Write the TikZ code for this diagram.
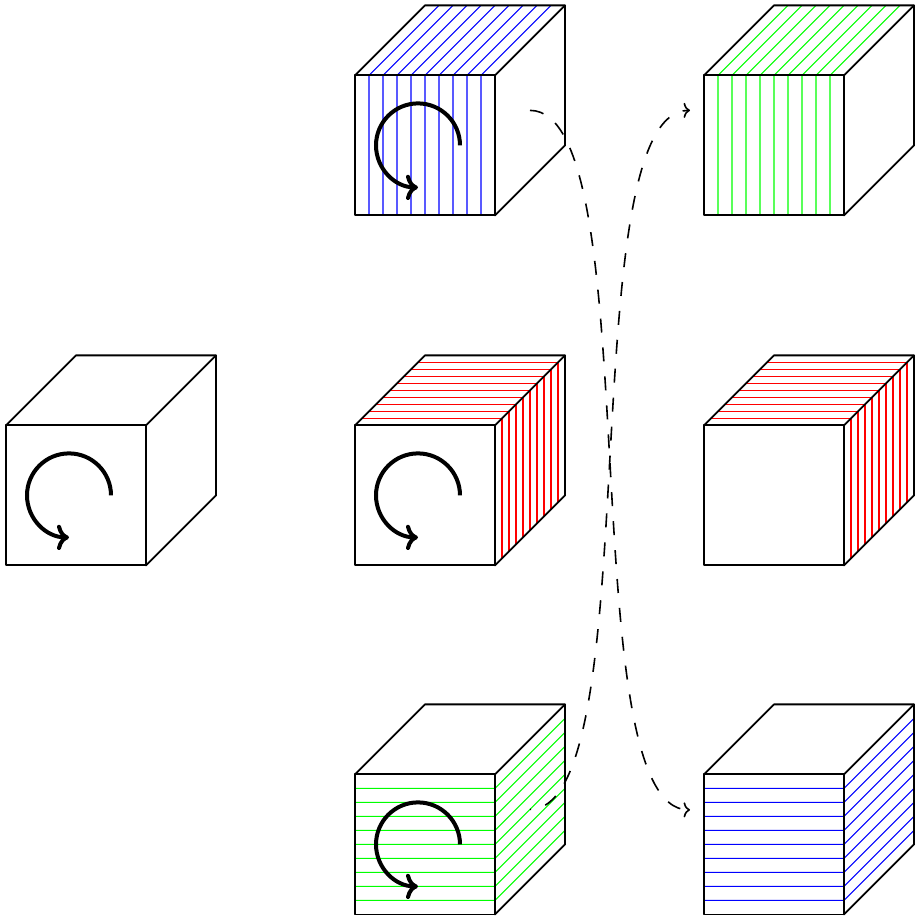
\documentclass[tikz,border=0pt]{standalone}
\usetikzlibrary{arrows.meta}
\tikzset{
  edge/.style={black,line width=0.9pt,line cap=round,line join=round},
  stripe/.style={line width=0.52pt},
  spin/.style={black,line width=2pt,->},
  link/.style={black,line width=0.8pt,-{To[length=3.2pt,width=7.5pt]},dash pattern=on 7pt off 7.5pt},
}
% outline of a cube, origin at the bottom left corner of its front face
\newcommand{\cubeat}[2]{%
  \begin{scope}[shift={(#1,#2)}]
    \draw[edge] (0,0) rectangle (140,140);
    \draw[edge] (0,140) -- (70,210) -- (210,210) -- (210,70) -- (140,0);
    \draw[edge] (140,140) -- (210,210);
  \end{scope}}
\newcommand{\spinat}[2]{%
  \begin{scope}[shift={(#1,#2)}]
    \draw[spin] (105,70) arc[start angle=0,delta angle=270,radius=42];
  \end{scope}}
% vertical stripes on the front, matching ones on the top
\newcommand{\frontvert}[3]{%
  \begin{scope}[shift={(#1,#2)}]
    \foreach \k in {14,28,...,126} {
      \draw[stripe,#3] (\k,0) -- (\k,140) -- ({\k+70},210);
    }
  \end{scope}}
% stripes on the top and the right face, running across the depth
\newcommand{\depthstripes}[3]{%
  \begin{scope}[shift={(#1,#2)}]
    \foreach \k in {7,14,...,63} {
      \draw[stripe,#3] (\k,{140+\k}) -- ({140+\k},{140+\k}) -- ({140+\k},\k);
    }
  \end{scope}}
% horizontal stripes on the front, matching ones on the right
\newcommand{\fronthoriz}[3]{%
  \begin{scope}[shift={(#1,#2)}]
    \foreach \k in {14,28,...,126} {
      \draw[stripe,#3] (0,\k) -- (140,\k) -- (210,{\k+70});
    }
  \end{scope}}
\definecolor{cubered}{rgb}{1,0,0}
\definecolor{cubegreen}{rgb}{0,1,0}
\definecolor{cubeblue}{rgb}{0,0,1}
\begin{document}
\begin{tikzpicture}[x=0.5pt,y=0.5pt]
  \useasboundingbox (0,0) rectangle (917,917);
  \fill[white] (0,0) rectangle (917,917);
  \begin{scope}[yshift=-0.2pt]
  % left cube
  \cubeat{6}{352}
  \spinat{6}{352}
  % middle column
  \frontvert{355}{702}{cubeblue}
  \cubeat{355}{702}
  \spinat{355}{702}
  \depthstripes{355}{352}{cubered}
  \cubeat{355}{352}
  \spinat{355}{352}
  \fronthoriz{355}{3}{cubegreen}
  \cubeat{355}{3}
  \spinat{355}{3}
  % right column
  \frontvert{704}{702}{cubegreen}
  \cubeat{704}{702}
  \depthstripes{704}{352}{cubered}
  \cubeat{704}{352}
  \fronthoriz{704}{3}{cubeblue}
  \cubeat{704}{3}
  % swaps
  \coordinate (bottomout) at (530,108);
  \coordinate (topin) at (690,807);
  \coordinate (topout) at (530,807);
  \coordinate (bottomin) at (690,107.5);
  \draw[link,dash phase=6.5pt] (bottomout) .. controls (650,108) and (570,807) .. (topin);
  \draw[link] (topout) .. controls (650,807) and (570,107.5) .. (bottomin);
  \end{scope}
\end{tikzpicture}
\end{document}
